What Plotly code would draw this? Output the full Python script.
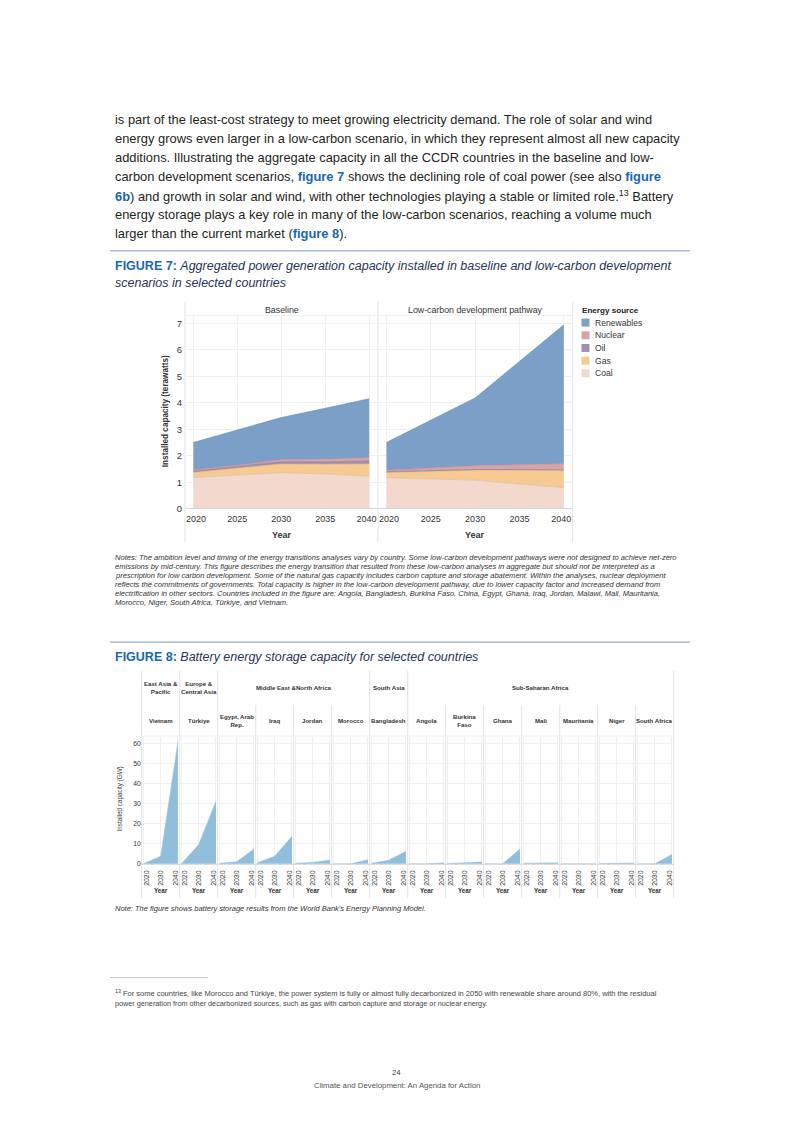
import plotly.graph_objects as go

W, H = 793, 1122


def X(px):
    return px / W


def Y(py):
    return 1 - py / H


# ---------------- Figure 7 data (terawatts, per layer) ----------------
years7 = [2020, 2025, 2030, 2035, 2040]
baseline_coal = [1.18, 1.27, 1.36, 1.31, 1.23]
baseline_gas = [0.19, 0.25, 0.33, 0.37, 0.46]
baseline_oil = [0.05, 0.07, 0.08, 0.09, 0.11]
baseline_nuclear = [0.04, 0.05, 0.08, 0.10, 0.12]
baseline_renewables = [1.04, 1.33, 1.59, 1.92, 2.23]
lowcarbon_coal = [1.17, 1.12, 1.08, 0.93, 0.80]
lowcarbon_gas = [0.19, 0.29, 0.38, 0.52, 0.64]
lowcarbon_oil = [0.04, 0.03, 0.02, 0.03, 0.03]
lowcarbon_nuclear = [0.05, 0.09, 0.14, 0.18, 0.23]
lowcarbon_renewables = [1.05, 1.81, 2.56, 3.90, 5.24]
stack_order = ["Coal", "Gas", "Oil", "Nuclear", "Renewables"]
legend_order = ["Renewables", "Nuclear", "Oil", "Gas", "Coal"]
panel_titles7 = ["Baseline", "Low-carbon development pathway"]
yticks7 = [0, 1, 2, 3, 4, 5, 6, 7]

# ---------------- Figure 8 data (GW) ----------------
years8 = [2020, 2030, 2040]
countries = ["Vietnam", "Türkiye", "Egypt, Arab Rep.", "Iraq", "Jordan", "Morocco",
             "Bangladesh", "Angola", "Burkina Faso", "Ghana", "Mali", "Mauritania",
             "Niger", "South Africa"]
country_labels = ["Vietnam", "Türkiye", "Egypt, Arab<br>Rep.", "Iraq", "Jordan", "Morocco",
                  "Bangladesh", "Angola", "Burkina<br>Faso", "Ghana", "Mali", "Mauritania",
                  "Niger", "South Africa"]
regions = ["East Asia &<br>Pacific", "Europe &<br>Central Asia", "Middle East &North Africa",
           "South Asia", "Sub-Saharan Africa"]
region_sizes = [1, 1, 4, 1, 7]
storage_2020 = [0.0, 0.0, 0.3, 0.5, 0.3, 0.0, 0.3, 0.0, 0.2, 0.0, 0.3, 0.0, 0.2, 0.0]
storage_2030 = [3.8, 9.6, 1.0, 3.8, 0.7, 0.0, 1.8, 0.0, 0.4, 0.0, 0.5, 0.0, 0.4, 0.0]
storage_2040 = [60.8, 31.1, 7.4, 13.7, 1.9, 2.0, 6.3, 0.5, 0.9, 7.4, 0.5, 0.0, 0.4, 4.7]
yticks8 = [0, 10, 20, 30, 40, 50, 60]

# ---------------- styles ----------------
FILL = {"Renewables": "#7b9fc6", "Nuclear": "#d9a3a6", "Oil": "#9f8fb0",
        "Gas": "#f6ca90", "Coal": "#f3d9cd"}
EDGE = {"Renewables": "#6d92bb", "Nuclear": "#c98f93", "Oil": "#8d7ca0",
        "Gas": "#e7b878", "Coal": "#d6bcb0"}
BATT = "#91bedb"
GRID = "#f0f0f0"
SEP = "#e3e3e3"
FONT = "Liberation Sans, Arial, sans-serif"
NARROW = "Liberation Sans Narrow, Liberation Sans, Arial, sans-serif"
BODY = "#231f20"
LINK = "#1767b1"
NAVY = "#26355a"
# label nudges (in years) so that edge tick labels of adjacent panels do not collide
EDGE_NUDGE7 = {2020: 0.3, 2040: -0.3}
EDGE_NUDGE8 = {2020: 2.0, 2040: -1.5}

fig = go.Figure()
layout = dict(width=W, height=H, margin=dict(l=0, r=0, t=0, b=0),
              paper_bgcolor="white", plot_bgcolor="white", showlegend=False,
              font=dict(family=FONT, color="#333"))

# ---------------- Figure 7 axes & traces ----------------
scen = [
    {"Coal": baseline_coal, "Gas": baseline_gas, "Oil": baseline_oil,
     "Nuclear": baseline_nuclear, "Renewables": baseline_renewables},
    {"Coal": lowcarbon_coal, "Gas": lowcarbon_gas, "Oil": lowcarbon_oil,
     "Nuclear": lowcarbon_nuclear, "Renewables": lowcarbon_renewables},
]
p7_left = [185.0, 378.0]
p7_right = [378.0, 572.7]
tickpos7 = [yr + EDGE_NUDGE7.get(yr, 0) for yr in years7]
for i in range(2):
    n = "" if i == 0 else "2"
    layout["xaxis" + n] = dict(domain=[X(p7_left[i]), X(p7_right[i])], range=[2019.05, 2041.0],
                               tickmode="array", tickvals=tickpos7,
                               ticktext=[str(v) for v in years7], ticks="", showline=False,
                               zeroline=False, showgrid=False, anchor="y" + n,
                               ticklabelstandoff=3,
                               minor=dict(tickmode="array", tickvals=years7, showgrid=True,
                                          gridcolor=GRID, ticks=""),
                               tickfont=dict(size=9, color="#333"), fixedrange=True)
    layout["yaxis" + n] = dict(domain=[Y(511), Y(317)], range=[0, 7.29], tickvals=yticks7,
                               ticks="", showline=False, zeroline=False, showgrid=True,
                               gridcolor=GRID, anchor="x" + n, showticklabels=(i == 0),
                               ticklabelstandoff=2,
                               tickfont=dict(size=9.5, color="#333"), fixedrange=True)
    for src in stack_order:
        fig.add_trace(go.Scatter(x=years7, y=scen[i][src], mode="lines", stackgroup="s%d" % i,
                                 fillcolor=FILL[src], line=dict(color=EDGE[src], width=0.7),
                                 name=src, xaxis="x" + n, yaxis="y" + n, hoverinfo="skip"))

# ---------------- Figure 8 axes & traces ----------------
P8_X0, P8_W = 141.7, 38.0
tickpos8 = [yr + EDGE_NUDGE8.get(yr, 0) for yr in years8]
for k, c in enumerate(countries):
    n = str(k + 3)
    layout["xaxis" + n] = dict(domain=[X(P8_X0 + P8_W * k), X(P8_X0 + P8_W * (k + 1))],
                               range=[2019.0, 2041.0], tickmode="array", tickvals=tickpos8,
                               ticktext=[str(v) for v in years8], tickangle=-90,
                               ticks="", showline=False, zeroline=False, showgrid=False,
                               ticklabelstandoff=3,
                               minor=dict(tickmode="array", tickvals=years8, showgrid=True,
                                          gridcolor=GRID, ticks=""),
                               anchor="y" + n, tickfont=dict(size=6.9, color="#333"),
                               fixedrange=True)
    layout["yaxis" + n] = dict(domain=[Y(869), Y(739.3)], range=[-0.64, 63.66],
                               tickvals=yticks8, ticks="", showline=False, zeroline=False,
                               showgrid=True, gridcolor=GRID, anchor="x" + n,
                               showticklabels=(k == 0), tickfont=dict(size=6.8, color="#333"),
                               fixedrange=True)
    fig.add_trace(go.Scatter(x=years8, y=[storage_2020[k], storage_2030[k], storage_2040[k]],
                             mode="lines", fill="tozeroy", fillcolor=BATT,
                             line=dict(color=BATT, width=0.5), name=c,
                             xaxis="x" + n, yaxis="y" + n, hoverinfo="skip"))

# ---------------- shapes ----------------
shapes = []


def hline(y, x0, x1, color, w=1.0):
    shapes.append(dict(type="line", xref="paper", yref="paper", x0=X(x0), x1=X(x1),
                       y0=Y(y), y1=Y(y), line=dict(color=color, width=w), layer="above"))


def vline(x, y0, y1, color, w=1.0):
    shapes.append(dict(type="line", xref="paper", yref="paper", x0=X(x), x1=X(x),
                       y0=Y(y0), y1=Y(y1), line=dict(color=color, width=w), layer="below"))


# section rules
hline(252, 110, 690, "#7d99b8", 1.0)
hline(645, 110, 690, "#7d99b8", 1.0)
hline(982, 110, 208, "#b5b5b5", 0.8)

# figure 7 frame lines
for xv in [185, 378, 572.7]:
    vline(xv, 303, 545, SEP)
hline(317, 185, 572.7, "#eeeeee")
hline(510.8, 185, 572.7, "#d6d6d6")

# figure 7 legend swatches
leg_y = [324, 336.8, 349.5, 362.3, 375]
for src, yy in zip(legend_order, leg_y):
    shapes.append(dict(type="rect", xref="paper", yref="paper", x0=X(581.5), x1=X(589.5),
                       y0=Y(yy + 4), y1=Y(yy - 4), fillcolor=FILL[src],
                       line=dict(width=0)))

# figure 8 frame lines
boundaries = [0]
for s in region_sizes:
    boundaries.append(boundaries[-1] + s)
for k in range(15):
    top = 674 if k in boundaries else 708
    vline(P8_X0 + P8_W * k, top, 902, SEP)
hline(739.3, P8_X0, P8_X0 + P8_W * 14, "#eeeeee")
hline(868.2, P8_X0, P8_X0 + P8_W * 14, "#d6d6d6")

layout["shapes"] = shapes

# ---------------- annotations ----------------
ann = []


def txt(s, x, y, size, color=BODY, xa="left", family=FONT, angle=0):
    ann.append(dict(text=s, x=X(x), y=Y(y), xref="paper", yref="paper", xanchor=xa,
                    yanchor="middle", showarrow=False, textangle=angle,
                    font=dict(size=size, color=color, family=family)))


def link(s):
    return '<span style="color:%s"><b>%s</b></span>' % (LINK, s)


body = [
    "is part of the least-cost strategy to meet growing electricity demand. The role of solar and wind",
    "energy grows even larger in a low-carbon scenario, in which they represent almost all new capacity",
    "additions. Illustrating the aggregate capacity in all the CCDR countries in the baseline and low-",
    "carbon development scenarios, " + link("figure 7") + " shows the declining role of coal power (see also " + link("figure"),
    link("6b") + ") and growth in solar and wind, with other technologies playing a stable or limited role.<sup>13</sup> Battery",
    "energy storage plays a key role in many of the low-carbon scenarios, reaching a volume much",
    "larger than the current market (" + link("figure 8") + ").",
]
for i, line in enumerate(body):
    txt(line, 113, 120.5 + 19 * i, 12.9)

# figure titles
txt('<span style="color:%s"><b>FIGURE 7:</b></span> <i>Aggregated power generation capacity installed in baseline and low-carbon development</i>' % LINK,
    113, 267.5, 12.5, NAVY)
txt("<i>scenarios in selected countries</i>", 113, 284, 12.5, NAVY)
txt('<span style="color:%s"><b>FIGURE 8:</b></span> <i>Battery energy storage capacity for selected countries</i>' % LINK,
    113, 660, 12.5, NAVY)

# figure 7 texts
txt(panel_titles7[0], 281.5, 311, 8.8, "#333", "center")
txt(panel_titles7[1], 475.3, 311, 8.8, "#333", "center")
txt("<b>Year</b>", 281.5, 537, 9, "#333", "center")
txt("<b>Year</b>", 475.3, 537, 9, "#333", "center")
txt("<b>Installed capacity (terawatts)</b>", 165, 413, 8.2, "#333", "center", angle=-90)
txt("<b>Energy source</b>", 579.5, 312, 8.1, "#222")
for src, yy in zip(legend_order, leg_y):
    txt(src, 592.5, yy, 8.6, "#333")

notes7 = [
    "Notes: The ambition level and timing of the energy transitions analyses vary by country. Some low-carbon development pathways were not designed to achieve net-zero",
    "emissions by mid-century. This figure describes the energy transition that resulted from these low-carbon analyses in aggregate but should not be interpreted as a",
    "prescription for low carbon development. Some of the natural gas capacity includes carbon capture and storage abatement. Within the analyses, nuclear deployment",
    "reflects the commitments of governments. Total capacity is higher in the low-carbon development pathway, due to lower capacity factor and increased demand from",
    "electrification in other sectors. Countries included in the figure are: Angola, Bangladesh, Burkina Faso, China, Egypt, Ghana, Iraq, Jordan, Malawi, Mali, Mauritania,",
    "Morocco, Niger, South Africa, Türkiye, and Vietnam.",
]
for i, line in enumerate(notes7):
    txt("<i>" + line + "</i>", 113, 559.5 + 9.05 * i, 7.55, "#333")

# figure 8 header texts
for r, name in enumerate(regions):
    c0, c1 = boundaries[r], boundaries[r + 1]
    cx = P8_X0 + P8_W * (c0 + c1) / 2
    txt("<b>" + name + "</b>", cx, 691, 6.1, "#333", "center", NARROW)
for k, lab in enumerate(country_labels):
    cx = P8_X0 + P8_W * (k + 0.5)
    txt("<b>" + lab + "</b>", cx, 724, 6.1, "#333", "center", NARROW)
    txt("<b>Year</b>", cx, 894.5, 6.3, "#333", "center")
txt("Installed capacity (GW)", 120, 803, 6.3, "#444", "center", angle=-90)
txt("<i>Note: The figure shows battery storage results from the World Bank's Energy Planning Model.</i>",
    113, 913, 7.5, "#333")

# footnote and footer
txt("<sup>13</sup> For some countries, like Morocco and Türkiye, the power system is fully or almost fully decarbonized in 2050 with renewable share around 80%, with the residual",
    113, 997, 7.5, "#444")
txt("power generation from other decarbonized sources, such as gas with carbon capture and storage or nuclear energy.",
    113, 1007.5, 7.25, "#444")
txt("24", 396.5, 1077, 7.8, "#444", "center")
txt("Climate and Development: An Agenda for Action", 396.5, 1090, 7.8, "#555", "center")

layout["annotations"] = ann
fig.update_layout(**layout)
fig.write_html("out.html", config={"displayModeBar": False},
               post_script="document.body.style.margin='0px';")
